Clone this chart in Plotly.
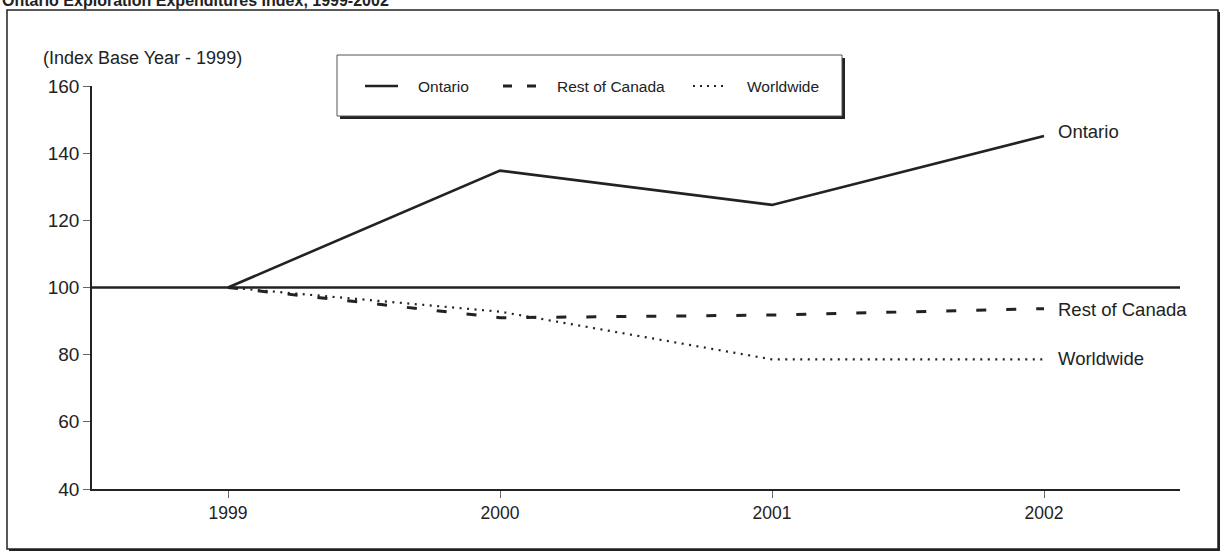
import plotly.graph_objects as go

# Index values (base year 1999 = 100)
years = [1999, 2000, 2001, 2002]
ontario = [100, 134.8, 124.6, 145.1]
rest_of_canada = [100, 91.0, 91.8, 93.7]
worldwide = [100, 92.8, 78.6, 78.6]

series_names = ["Ontario", "Rest of Canada", "Worldwide"]
y_ticks = [40, 60, 80, 100, 120, 140, 160]
base_value = 100

W, H = 1225, 551
L, R, T, B = 92, 1180, 86, 489  # plot area in pixels

INK = "#222222"
FONT = "Liberation Sans, Arial, sans-serif"


def px(x):
    return (x - L) / (R - L)


def py(y):
    return (B - y) / (B - T)


fig = go.Figure()

styles = [
    dict(color=INK, width=2.6, dash="solid"),
    dict(color=INK, width=3, dash="10px,20px"),
    dict(color=INK, width=2.2, dash="2px,5.5px"),
]
for name, vals, st in zip(series_names, [ontario, rest_of_canada, worldwide], styles):
    fig.add_trace(go.Scatter(x=years, y=vals, mode="lines", name=name,
                             line=st, showlegend=False, hoverinfo="x+y+name"))

shapes = []
# outer frame with drop shadow
shapes.append(dict(type="rect", xref="paper", yref="paper",
                   x0=px(9), x1=px(1220), y0=py(551), y1=py(12),
                   line=dict(width=0), fillcolor=INK, layer="below"))
shapes.append(dict(type="rect", xref="paper", yref="paper",
                   x0=px(7), x1=px(1218), y0=py(549), y1=py(10),
                   line=dict(color=INK, width=1.5), fillcolor="white", layer="below"))

# base-year reference line
shapes.append(dict(type="line", xref="paper", yref="y", x0=0, x1=1,
                   y0=base_value, y1=base_value,
                   line=dict(color=INK, width=2.6), layer="below"))

# legend box with drop shadow
shapes.append(dict(type="rect", xref="paper", yref="paper",
                   x0=px(340), x1=px(845), y0=py(119), y1=py(58),
                   line=dict(width=0), fillcolor=INK))
shapes.append(dict(type="rect", xref="paper", yref="paper",
                   x0=px(337), x1=px(842), y0=py(116), y1=py(55),
                   line=dict(color="#555555", width=1), fillcolor="white"))

legend_y = py(86)
samples = [(365, 398, styles[0], "solid"),
           (503, 537, styles[1], "9px,15px"),
           (693, 726, styles[2], "2px,5px")]
for x0, x1, st, dash in samples:
    shapes.append(dict(type="line", xref="paper", yref="paper",
                       x0=px(x0), x1=px(x1), y0=legend_y, y1=legend_y,
                       line=dict(color=INK, width=st["width"], dash=dash)))

annotations = []
for name, x in zip(series_names, [416, 555, 745]):
    annotations.append(dict(text=name, xref="paper", yref="paper",
                            x=px(x), y=legend_y, xanchor="left", yanchor="middle",
                            showarrow=False, font=dict(size=15.5, color=INK, family=FONT)))

# series labels at the line ends
label_shift = [5, -1, 1]
for name, vals, ys in zip(series_names, [ontario, rest_of_canada, worldwide], label_shift):
    annotations.append(dict(text=name, x=years[-1], y=vals[-1], xref="x", yref="y",
                            xanchor="left", yanchor="middle", xshift=12, yshift=ys,
                            showarrow=False, font=dict(size=18.5, color=INK, family=FONT)))

# unit note above the y axis
annotations.append(dict(text="(Index Base Year - 1999)", xref="paper", yref="paper",
                        x=px(41), y=py(58), xanchor="left", yanchor="middle",
                        showarrow=False, font=dict(size=18, color=INK, family=FONT)))

# chart title
annotations.append(dict(text="<b>Ontario Exploration Expenditures Index, 1999-2002</b>",
                        xref="paper", yref="paper", x=px(0), y=py(11),
                        xanchor="left", yanchor="bottom", showarrow=False,
                        font=dict(size=16, color=INK, family=FONT)))

fig.update_layout(
    width=W, height=H,
    margin=dict(l=L, r=W - R, t=T, b=H - B, pad=0),
    paper_bgcolor="white", plot_bgcolor="rgba(0,0,0,0)",
    shapes=shapes, annotations=annotations,
    font=dict(family=FONT, color=INK),
    xaxis=dict(range=[1998.5, 2002.5], tickvals=years, ticktext=[str(y) for y in years],
               showgrid=False, zeroline=False, showline=True, linecolor=INK, linewidth=1.5,
               ticks="outside", ticklen=7, tickcolor="#666666", tickwidth=1,
               tickfont=dict(size=17.5, color=INK), fixedrange=True),
    yaxis=dict(range=[40, 160], tickvals=y_ticks, showgrid=False, zeroline=False,
               showline=True, linecolor=INK, linewidth=1.5,
               ticks="outside", ticklen=7, tickcolor="#666666", tickwidth=1,
               tickfont=dict(size=19, color=INK), fixedrange=True),
    showlegend=False,
)

fig.write_html("out.html", config={"displayModeBar": False})
